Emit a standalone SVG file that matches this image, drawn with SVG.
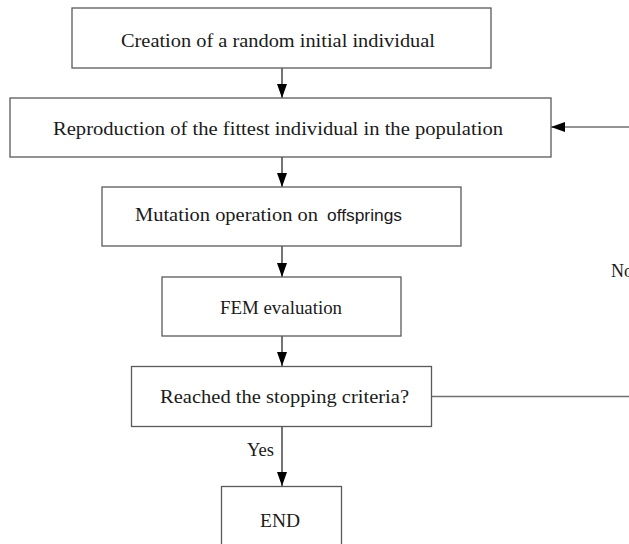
<svg xmlns="http://www.w3.org/2000/svg" width="629" height="544" viewBox="0 0 629 544">
<style>
.box{fill:#fff;stroke:#5a5a5a;stroke-width:1.3}
.t{font-family:"Liberation Serif","Times New Roman",serif;font-size:18px;fill:#1a1a1a;text-anchor:middle}
.s{font-family:"Liberation Sans",Arial,sans-serif;font-size:17px}
.ln{stroke:#2a2a2a;stroke-width:1.3;fill:none}
.lg{stroke:#707070;stroke-width:1.4;fill:none}
</style>
<defs>
<marker id="ah" markerWidth="14" markerHeight="10" refX="14" refY="5" orient="auto" markerUnits="userSpaceOnUse">
<path d="M0,0 L14,5 L0,10 Z" fill="#000"/>
</marker>
</defs>
<rect width="629" height="544" fill="#fff"/>
<g id="connectors">
<line class="ln" x1="282" y1="68" x2="282" y2="98" marker-end="url(#ah)"/>
<line class="ln" x1="282" y1="157" x2="282" y2="187" marker-end="url(#ah)"/>
<line class="ln" x1="282" y1="246" x2="282" y2="277" marker-end="url(#ah)"/>
<line class="ln" x1="282" y1="336" x2="282" y2="366" marker-end="url(#ah)"/>
<line class="ln" x1="282" y1="426" x2="282" y2="486" marker-end="url(#ah)"/>
<line class="lg" x1="431" y1="396.5" x2="629" y2="396.5"/>
<line class="lg" x1="629" y1="127" x2="551" y2="127" marker-end="url(#ah)"/>
<text class="t" x="247" y="456" style="text-anchor:start" textLength="27" lengthAdjust="spacingAndGlyphs">Yes</text>
<text class="t" x="611" y="277" style="text-anchor:start">No</text>
</g>
<g id="n1">
<rect class="box" x="72" y="8" width="419" height="60"/>
<text class="t" x="121" y="47" style="text-anchor:start" textLength="314" lengthAdjust="spacingAndGlyphs">Creation of a random initial individual</text>
</g>
<g id="n2">
<rect class="box" x="10" y="98" width="541" height="59"/>
<text class="t" x="53" y="135" style="text-anchor:start" textLength="450" lengthAdjust="spacingAndGlyphs">Reproduction of the fittest individual in the population</text>
</g>
<g id="n3">
<rect class="box" x="102" y="187" width="359" height="59"/>
<text class="t" x="135" y="221" style="text-anchor:start"><tspan textLength="183" lengthAdjust="spacingAndGlyphs">Mutation operation on</tspan><tspan class="s" x="327" textLength="75" lengthAdjust="spacingAndGlyphs">offsprings</tspan></text>
</g>
<g id="n4">
<rect class="box" x="162" y="277" width="239" height="59"/>
<text class="t" x="220" y="314" style="text-anchor:start" textLength="122" lengthAdjust="spacingAndGlyphs">FEM evaluation</text>
</g>
<g id="n5">
<rect class="box" x="131.5" y="366.5" width="300" height="60"/>
<text class="t" x="160" y="403" style="text-anchor:start" textLength="249" lengthAdjust="spacingAndGlyphs">Reached the stopping criteria?</text>
</g>
<g id="n6">
<rect class="box" x="221.5" y="486.5" width="120" height="62"/>
<text class="t" x="260" y="526.5" style="text-anchor:start" textLength="40" lengthAdjust="spacingAndGlyphs">END</text>
</g>
</svg>
